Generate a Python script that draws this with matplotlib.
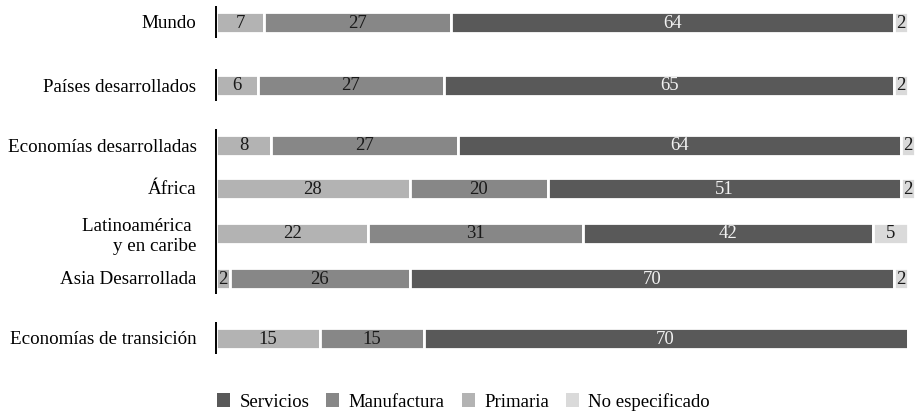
import matplotlib.pyplot as plt
from matplotlib.patches import Patch

plt.rcParams['font.family'] = ['Liberation Serif', 'DejaVu Serif']

regiones = ['Mundo', 'Países desarrollados', 'Economías desarrolladas', 'África',
            'Latinoamérica \ny en caribe', 'Asia Desarrollada', 'Economías de transición']
# vertical position of each row (pixels from the top)
filas = [22, 85, 145, 188, 233, 278, 338]
# rows that share a continuous stretch of the axis line
tramos = [[0], [1], [2, 3, 4, 5], [6]]

primaria = [7, 6, 8, 28, 22, 2, 15]
manufactura = [27, 27, 27, 20, 31, 26, 15]
servicios = [64, 65, 64, 51, 42, 70, 70]
no_especificado = [2, 2, 2, 2, 5, 2, 0]

series = [
    ('Primaria', primaria, '#b3b3b3', '#1a1a1a'),
    ('Manufactura', manufactura, '#878787', '#1a1a1a'),
    ('Servicios', servicios, '#595959', '#f2f2f2'),
    ('No especificado', no_especificado, '#dadada', '#1a1a1a'),
]

fig = plt.figure(figsize=(9.16, 4.13), dpi=100)
ax = fig.add_axes([216 / 916, 0, 700 / 916, 1])

izq = [0] * len(regiones)
for nombre, valores, color, color_txt in series:
    barras = ax.barh(filas, valores, left=izq, height=21, color=color,
                     edgecolor='white', linewidth=2)
    for b, v in zip(barras, valores):
        if v > 0:
            ax.text(b.get_x() + b.get_width() / 2, b.get_y() + b.get_height() / 2 + 1,
                    str(v), ha='center', va='center', fontsize=13.5, color=color_txt)
    izq = [a + v for a, v in zip(izq, valores)]

# broken axis line along the left edge
for t in tramos:
    ax.plot([0, 0], [filas[t[0]] - 16, filas[t[-1]] + 16], color='black',
            linewidth=1.4, clip_on=False, solid_capstyle='butt')

ax.set_xlim(0, 101.2)
ax.set_ylim(413, 0)
ax.set_yticks(filas)
ax.set_yticklabels(regiones, fontsize=13.7)
ax.tick_params(axis='y', length=0, pad=14)
ax.set_xticks([])
for s in ax.spines.values():
    s.set_visible(False)

orden = [2, 1, 0, 3]
handles = [Patch(facecolor=series[i][2], edgecolor='none') for i in orden]
labels = [series[i][0] for i in orden]
fig.legend(handles, labels, loc='lower left', bbox_to_anchor=(200 / 916, -0.035),
           ncol=4, frameon=False, fontsize=13.5, handlelength=0.7, handleheight=0.7,
           handletextpad=0.5, columnspacing=0.9)

fig.savefig('out.png', dpi=100)
